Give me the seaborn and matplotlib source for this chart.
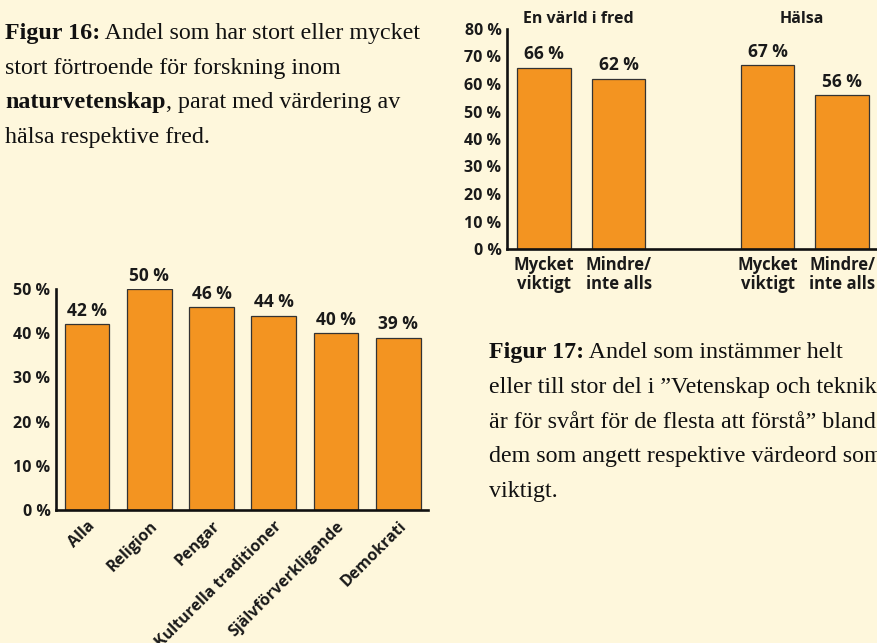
import matplotlib
matplotlib.use("Agg")
import matplotlib.pyplot as plt
import seaborn as sns
import pandas as pd

# ---- data ----
fig16_categories = ["Alla", "Religion", "Pengar", "Kulturella traditioner",
                    "Självförverkligande", "Demokrati"]
fig16_values = [42, 50, 46, 44, 40, 39]

fig17_groups = ["En värld i fred", "Hälsa"]
fig17_categories = ["Mycket\nviktigt", "Mindre/\ninte alls"]
fig17_values = [66, 62, 67, 56]
fig17_positions = [0, 1, 3, 4]

fig16_yticks = [0, 10, 20, 30, 40, 50]
fig17_yticks = [0, 10, 20, 30, 40, 50, 60, 70, 80]

BG = "#FEF7DC"
BAR = "#F39421"
EDGE = "#333333"
SANS = "Open Sans"
SERIF = "Liberation Serif"

sns.set_theme(style="white")
plt.rcParams["font.family"] = [SANS, "DejaVu Sans"]

W, H = 877, 643
fig = plt.figure(figsize=(W / 100, H / 100), dpi=100)
fig.patch.set_facecolor(BG)


def px_axes(left, right, top, bottom):
    return fig.add_axes([left / W, 1 - bottom / H, (right - left) / W, (bottom - top) / H])


def style_axes(ax, ymax):
    ax.set_facecolor(BG)
    ax.patch.set_alpha(0)
    for s in ["top", "right"]:
        ax.spines[s].set_visible(False)
    for s in ["left", "bottom"]:
        ax.spines[s].set_color("#111111")
        ax.spines[s].set_linewidth(1.9)
    ax.spines["left"].set_bounds(0, ymax)
    ax.tick_params(axis="both", length=0)
    ax.set_xlabel("")
    ax.set_ylabel("")


TICK_SIZE = 11.5
VAL_SIZE = 12.5

# ---- Chart A (top right): fig17 values ----
axA = px_axes(507, 877, 29, 249)
dfA = pd.DataFrame({"pos": fig17_positions, "value": fig17_values})
sns.barplot(data=dfA, x="pos", y="value", native_scale=True, width=0.72,
            color=BAR, saturation=1, edgecolor=EDGE, linewidth=0.9, ax=axA)
axA.set_xlim(-0.5, 4.47)
axA.set_ylim(0, 80)
style_axes(axA, 80)
axA.set_yticks(fig17_yticks)
axA.set_yticklabels([f"{v} %" for v in fig17_yticks], fontsize=TICK_SIZE,
                    fontweight="bold", color="#1a1a1a")
axA.tick_params(axis="y", pad=4)
axA.set_xticks(fig17_positions)
axA.set_xticklabels(fig17_categories * 2, fontsize=12, fontweight="bold",
                    color="#1a1a1a", linespacing=1.1)
axA.tick_params(axis="x", pad=5)
for p, v in zip(fig17_positions, fig17_values):
    axA.annotate(f"{v} %", (p, v), xytext=(0, 3), textcoords="offset points",
                 ha="center", va="bottom", fontsize=VAL_SIZE, fontweight="bold",
                 color="#1a1a1a")
for i, g in enumerate(fig17_groups):
    cx = (fig17_positions[2 * i] + fig17_positions[2 * i + 1]) / 2
    axA.text(cx - 0.04, 83.6, g, ha="center", va="center", fontsize=11.5,
             fontweight="bold", color="#1a1a1a", clip_on=False)

# ---- Chart B (bottom left): fig16 values ----
axB = px_axes(56, 428, 289, 510)
dfB = pd.DataFrame({"cat": fig16_categories, "value": fig16_values})
sns.barplot(data=dfB, x="cat", y="value", order=fig16_categories, width=0.72,
            color=BAR, saturation=1, edgecolor=EDGE, linewidth=0.9, ax=axB)
axB.set_xlim(-0.5, 5.48)
axB.set_ylim(0, 50)
style_axes(axB, 50)
axB.set_yticks(fig16_yticks)
axB.set_yticklabels([f"{v} %" for v in fig16_yticks], fontsize=TICK_SIZE,
                    fontweight="bold", color="#1a1a1a")
axB.tick_params(axis="y", pad=4)
axB.set_xticks(range(len(fig16_categories)))
axB.set_xticklabels(fig16_categories, rotation=45, ha="right",
                    rotation_mode="anchor", fontsize=11.5, fontweight="bold",
                    color="#1a1a1a")
axB.tick_params(axis="x", pad=6)
for i, v in enumerate(fig16_values):
    axB.annotate(f"{v} %", (i, v), xytext=(0, 3), textcoords="offset points",
                 ha="center", va="bottom", fontsize=VAL_SIZE, fontweight="bold",
                 color="#1a1a1a")

# ---- captions ----
fig.canvas.draw()
renderer = fig.canvas.get_renderer()
CAP_SIZE = 17.3


def rich_line(x_px, y_px, segments):
    x = x_px
    for txt, bold in segments:
        t = fig.text(x / W, 1 - y_px / H, txt, ha="left", va="baseline",
                     fontsize=CAP_SIZE, family=SERIF,
                     fontweight="bold" if bold else "normal", color="#111111")
        bb = t.get_window_extent(renderer=renderer)
        x += bb.width


cap16 = [
    [("Figur 16:", True), (" Andel som har stort eller mycket", False)],
    [("stort förtroende för forskning inom", False)],
    [("naturvetenskap", True), (", parat med värdering av", False)],
    [("hälsa respektive fred.", False)],
]
for k, segs in enumerate(cap16):
    rich_line(5, 39 + k * 34.7, segs)

cap17 = [
    [("Figur 17:", True), (" Andel som instämmer helt", False)],
    [("eller till stor del i ”Vetenskap och teknik", False)],
    [("är för svårt för de flesta att förstå” bland", False)],
    [("dem som angett respektive värdeord som", False)],
    [("viktigt.", False)],
]
for k, segs in enumerate(cap17):
    rich_line(489, 358 + k * 34.8, segs)

fig.savefig("out.png", dpi=100, facecolor=BG)
